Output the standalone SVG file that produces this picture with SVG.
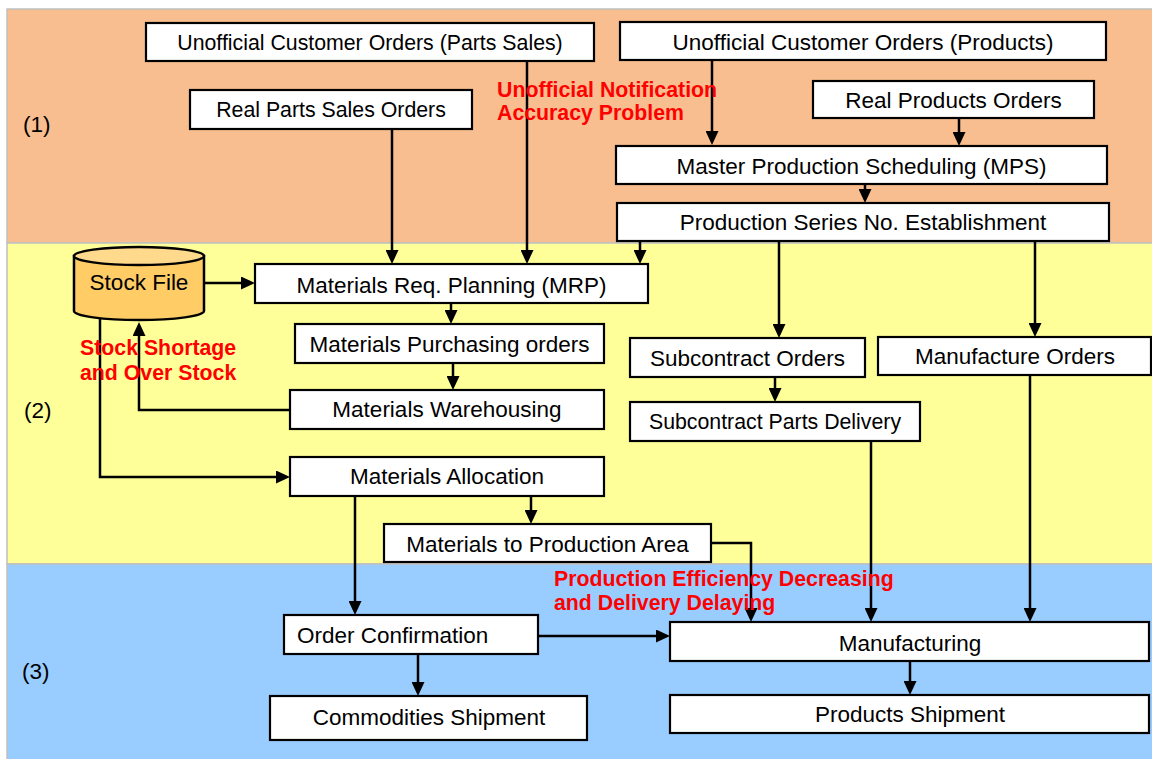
<svg xmlns="http://www.w3.org/2000/svg" width="1152" height="759" viewBox="0 0 1152 759">
  <defs>
    <style>
      .band { stroke: #C0C0C0; stroke-width: 1.5; }
      .box { fill: #FFFFFF; stroke: #000000; stroke-width: 2.2; }
      .t { font-family: "Liberation Sans", Arial, Helvetica, sans-serif; font-size: 22.5px; fill: #000000; }
      .ts { font-size: 21.3px; }
      .mid { text-anchor: middle; }
      .red { font-family: "Liberation Sans", Arial, Helvetica, sans-serif; font-size: 21.3px; font-weight: bold; fill: #FF0000; }
      .link { fill: none; stroke: #000000; stroke-width: 2.5; marker-end: url(#arrow); }
    </style>
    <marker id="arrow" viewBox="0 0 14 13" refX="8" refY="6.5" markerWidth="14" markerHeight="13" markerUnits="userSpaceOnUse" orient="auto">
      <path d="M0,0 L14,6.5 L0,13 Z" fill="#000000"/>
    </marker>
  </defs>

  <rect width="1152" height="759" fill="#FFFFFF"/>

  <!-- Phase bands -->
  <g id="bands">
    <rect class="band" x="7" y="9" width="1150" height="234" fill="#F8BE8F"/>
    <rect class="band" x="7" y="243" width="1150" height="321" fill="#FFFF99"/>
    <rect class="band" x="7" y="564" width="1150" height="200" fill="#99CCFF"/>
    <text class="t" x="23" y="132">(1)</text>
    <text class="t" x="24" y="418">(2)</text>
    <text class="t" x="22" y="679">(3)</text>
  </g>

  <!-- Connectors -->
  <g id="connectors">
    <path class="link" d="M527,61 V258"/>
    <path class="link" d="M392,129 V258"/>
    <path class="link" d="M712,60 V139"/>
    <path class="link" d="M959,118 V140"/>
    <path class="link" d="M865,184 V197"/>
    <path class="link" d="M640,241 V258"/>
    <path class="link" d="M779,241 V332"/>
    <path class="link" d="M1035,241 V331"/>
    <path class="link" d="M204,283 H249"/>
    <path class="link" d="M451,303 V318"/>
    <path class="link" d="M453,363 V384"/>
    <path class="link" d="M290,410 H139 V328"/>
    <path class="link" d="M100,318 V477 H284"/>
    <path class="link" d="M775,377 V396"/>
    <path class="link" d="M531,496 V518"/>
    <path class="link" d="M355,496 V609"/>
    <path class="link" d="M711,543 H751 V616"/>
    <path class="link" d="M538,636 H664"/>
    <path class="link" d="M418,654 V690"/>
    <path class="link" d="M871,441 V616"/>
    <path class="link" d="M1030,375 V616"/>
    <path class="link" d="M910,661 V689"/>
  </g>

  <!-- Phase 1: orders and scheduling -->
  <g id="unofficial-parts-orders">
    <rect class="box" x="146" y="23" width="448" height="38"/>
    <text class="t ts mid" x="370" y="50">Unofficial Customer Orders (Parts Sales)</text>
  </g>
  <g id="real-parts-orders">
    <rect class="box" x="190" y="90" width="282" height="39"/>
    <text class="t ts mid" x="331" y="117">Real Parts Sales Orders</text>
  </g>
  <g id="unofficial-product-orders">
    <rect class="box" x="620" y="22" width="486" height="38"/>
    <text class="t mid" x="863" y="50">Unofficial Customer Orders (Products)</text>
  </g>
  <g id="real-product-orders">
    <rect class="box" x="813" y="81" width="281" height="37"/>
    <text class="t mid" x="953.5" y="108">Real Products Orders</text>
  </g>
  <g id="mps">
    <rect class="box" x="616" y="146" width="491" height="38"/>
    <text class="t mid" x="861.5" y="174">Master Production Scheduling (MPS)</text>
  </g>
  <g id="series-no">
    <rect class="box" x="617" y="203" width="492" height="38"/>
    <text class="t mid" x="863" y="230">Production Series No. Establishment</text>
  </g>

  <!-- Phase 2: materials and orders -->
  <g id="stock-file">
    <path d="M74,256 V311 A65,9 0 0 0 204,311 V256 Z" fill="#FFCC66" stroke="#000000" stroke-width="2.5"/>
    <ellipse cx="139" cy="256" rx="65" ry="9" fill="#FFD98C" stroke="#000000" stroke-width="2.5"/>
    <text class="t mid" x="139" y="290">Stock File</text>
  </g>
  <g id="mrp">
    <rect class="box" x="255" y="264" width="393" height="39"/>
    <text class="t mid" x="451.5" y="293">Materials Req. Planning (MRP)</text>
  </g>
  <g id="purchasing">
    <rect class="box" x="295" y="324" width="309" height="39"/>
    <text class="t mid" x="449.5" y="352">Materials Purchasing orders</text>
  </g>
  <g id="warehousing">
    <rect class="box" x="290" y="390" width="314" height="39"/>
    <text class="t mid" x="447" y="417">Materials Warehousing</text>
  </g>
  <g id="allocation">
    <rect class="box" x="290" y="457" width="314" height="39"/>
    <text class="t mid" x="447" y="484">Materials Allocation</text>
  </g>
  <g id="subcontract-orders">
    <rect class="box" x="630" y="338" width="235" height="39"/>
    <text class="t mid" x="747.5" y="366">Subcontract Orders</text>
  </g>
  <g id="subcontract-delivery">
    <rect class="box" x="630" y="402" width="290" height="39"/>
    <text class="t ts mid" x="775" y="429">Subcontract Parts Delivery</text>
  </g>
  <g id="manufacture-orders">
    <rect class="box" x="878" y="337" width="273" height="38"/>
    <text class="t mid" x="1015" y="364">Manufacture Orders</text>
  </g>
  <g id="to-production-area">
    <rect class="box" x="384" y="524" width="327" height="38"/>
    <text class="t mid" x="547.5" y="552">Materials to Production Area</text>
  </g>

  <!-- Phase 3: production and shipment -->
  <g id="order-confirmation">
    <rect class="box" x="284" y="615" width="254" height="39"/>
    <text class="t" x="297" y="643">Order Confirmation</text>
  </g>
  <g id="commodities-shipment">
    <rect class="box" x="270" y="696" width="317" height="44"/>
    <text class="t mid" x="429" y="725">Commodities Shipment</text>
  </g>
  <g id="manufacturing">
    <rect class="box" x="670" y="622" width="479" height="39"/>
    <text class="t mid" x="910" y="651">Manufacturing</text>
  </g>
  <g id="products-shipment">
    <rect class="box" x="670" y="695" width="479" height="38"/>
    <text class="t mid" x="910" y="722">Products Shipment</text>
  </g>

  <!-- Problem callouts -->
  <g id="problems">
    <text class="red" x="497" y="97">Unofficial Notification</text>
    <text class="red" x="497" y="120">Accuracy Problem</text>
    <text class="red" x="80" y="355">Stock Shortage</text>
    <text class="red" x="80" y="380">and Over Stock</text>
    <text class="red" x="554" y="586">Production Efficiency Decreasing</text>
    <text class="red" x="554" y="610">and Delivery Delaying</text>
  </g>
</svg>
